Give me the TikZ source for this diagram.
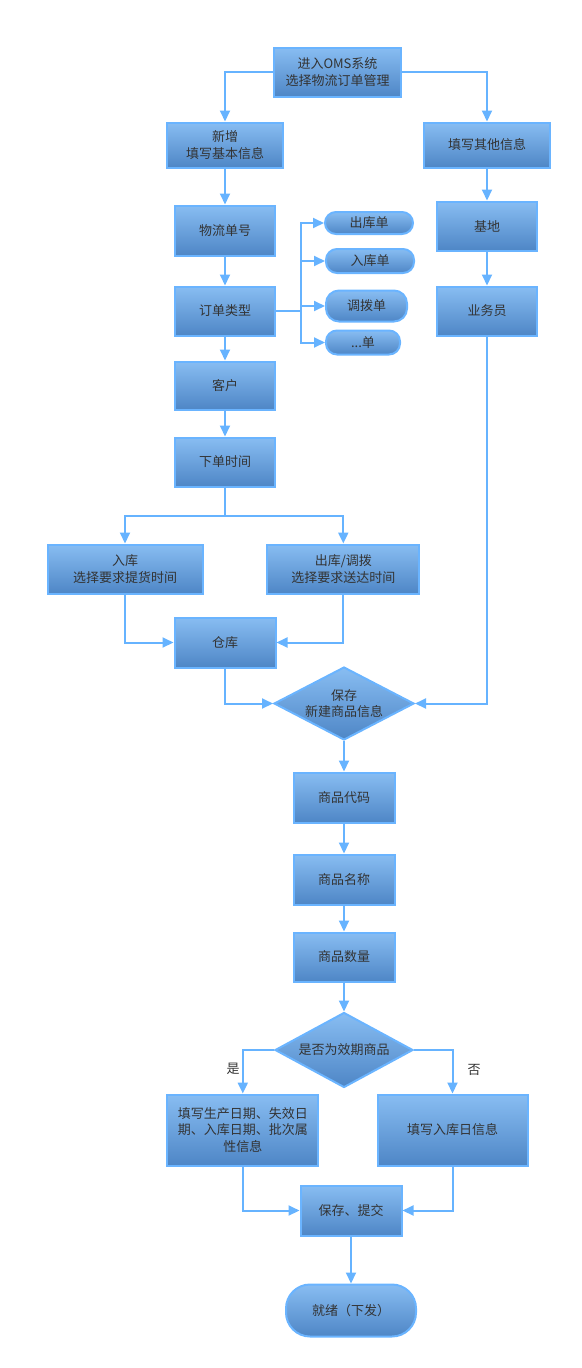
\documentclass[tikz,border=0pt]{standalone}
\usepackage{fontspec}
\setmainfont{Noto Sans CJK SC}
\usetikzlibrary{arrows.meta,shapes.geometric}
\definecolor{boxtop}{RGB}{136, 189, 242}
\definecolor{boxbot}{RGB}{78, 134, 198}
\definecolor{boxedge}{RGB}{106, 180, 255}
\definecolor{flowline}{RGB}{102, 179, 255}
\definecolor{inkgray}{RGB}{51, 51, 51}

\tikzset{
  stepbox/.style={draw=boxedge, line width=2pt, top color=boxtop, bottom color=boxbot,
    text=inkgray, align=center, inner sep=0pt, font=\fontsize{13}{16.5}\selectfont},
  pill/.style={stepbox, rounded corners=11pt},
  choice/.style={stepbox, diamond, shape aspect=1.9},
  flow/.style={draw=flowline, line width=2pt, -{Triangle[length=11pt, width=10pt]}},
  link/.style={draw=flowline, line width=2pt}
}

\begin{document}
\begin{tikzpicture}[x=1pt, y=-1pt]
            \useasboundingbox (0,0) rectangle (581,1368);
            % Top
            \node[stepbox, minimum width=127, minimum height=49] (start)  at (337.5,  72.0) {进入OMS系统\\选择物流订单管理};
            \node[stepbox, minimum width=116, minimum height=45] (basic)  at (225.0, 145.0) {新增\\填写基本信息};
            \node[stepbox, minimum width=126, minimum height=45] (other)  at (487.0, 145.0) {填写其他信息};
            % Left column
            \node[stepbox, minimum width=100, minimum height=50] (number) at (225.0, 230.5) {物流单号};
            \node[stepbox, minimum width=100, minimum height=49] (kind)   at (225.0, 311.0) {订单类型};
            \node[stepbox, minimum width=100, minimum height=48] (client) at (225.0, 385.5) {客户};
            \node[stepbox, minimum width=100, minimum height=49] (time)   at (225.0, 462.0) {下单时间};
            % Right column
            \node[stepbox, minimum width=100, minimum height=49] (base)   at (487.0, 226.0) {基地};
            \node[stepbox, minimum width=100, minimum height=49] (sales)  at (487.0, 311.0) {业务员};
            % Order kinds
            \node[pill, minimum width=88, minimum height=22]  (kout)  at (369.0, 223.0) {出库单};
            \node[pill, minimum width=88, minimum height=24]  (kin)   at (370.0, 261.0) {入库单};
            \node[pill, rounded corners=13pt, minimum width=81, minimum height=31]  (kmove) at (366.5, 306.0) {调拨单};
            \node[pill, minimum width=74, minimum height=24]  (kmore) at (363.0, 342.5) {...单};
            % Warehouse
            \node[stepbox, minimum width=155, minimum height=49] (inbox)  at (125.0, 569.0) {入库\\选择要求提货时间};
            \node[stepbox, minimum width=152, minimum height=49] (outbox) at (343.3, 569.0) {出库/调拨\\选择要求送达时间};
            \node[stepbox, minimum width=101, minimum height=50] (store)  at (225.0, 642.5) {仓库};
            \node[choice, minimum width=140, minimum height=73]  (save)   at (344.0, 703.5) {保存\\新建商品信息};
            % Goods
            \node[stepbox, minimum width=101, minimum height=50] (code)   at (344.0, 797.5) {商品代码};
            \node[stepbox, minimum width=101, minimum height=50] (name)   at (344.0, 879.5) {商品名称};
            \node[stepbox, minimum width=101, minimum height=49] (amount) at (344.0, 957.0) {商品数量};
            \node[choice, minimum width=138, minimum height=75]  (check)  at (344.0,1050.0) {是否为效期商品};
            \node[stepbox, minimum width=151, minimum height=71] (yes)    at (242.8,1130.0) {填写生产日期、失效日\\期、入库日期、批次属\\性信息};
            \node[stepbox, minimum width=150, minimum height=71] (no)     at (452.5,1130.0) {填写入库日信息};
            \node[stepbox, minimum width=101, minimum height=50] (submit) at (351.0,1210.5) {保存、提交};
            \node[stepbox, rounded corners=24pt, minimum width=130, minimum height=52] (done) at (351.0,1310.5) {就绪（下发）};
            \node[text=inkgray, font=\fontsize{13}{16}\selectfont] (ylabel) at (233.0,1068.5) {是};
            \node[text=inkgray, font=\fontsize{13}{16}\selectfont] (nlabel) at (474.0,1069.5) {否};
            % Joints
            \coordinate (brk)   at (300.5, 311.0);
            \coordinate (split) at (225.0, 516.0);
            % Connectors
            \draw[flow] (start.west) -| (basic.north);
            \draw[flow] (start.east) -| (other.north);
            \draw[flow] (basic) -- (number);
            \draw[flow] (other) -- (base);
            \draw[flow] (base)  -- (sales);
            \draw[flow] (number) -- (kind);
            \draw[flow] (kind)   -- (client);
            \draw[flow] (client) -- (time);
            \draw[link] (kind.east) -- (brk);
            \draw[flow] (brk) |- (kout.west);
            \draw[flow] (brk) |- (kin.west);
            \draw[flow] (brk) |- (kmove.west);
            \draw[flow] (brk) |- (kmore.west);
            \draw[link] (time.south) -- (split);
            \draw[flow] (split) -| (inbox.north);
            \draw[flow] (split) -| (outbox.north);
            \draw[flow] (inbox.south)  |- (store.west);
            \draw[flow] (outbox.south) |- (store.east);
            \draw[flow] (store.south)  |- (save.west);
            \draw[flow] (sales.south)  |- (save.east);
            \draw[flow] (save)   -- (code);
            \draw[flow] (code)   -- (name);
            \draw[flow] (name)   -- (amount);
            \draw[flow] (amount) -- (check);
            \draw[flow] (check.west) -| (yes.north);
            \draw[flow] (check.east) -| (no.north);
            \draw[flow] (yes.south) |- (submit.west);
            \draw[flow] (no.south)  |- (submit.east);
            \draw[flow] (submit) -- (done);
\end{tikzpicture}
\end{document}
